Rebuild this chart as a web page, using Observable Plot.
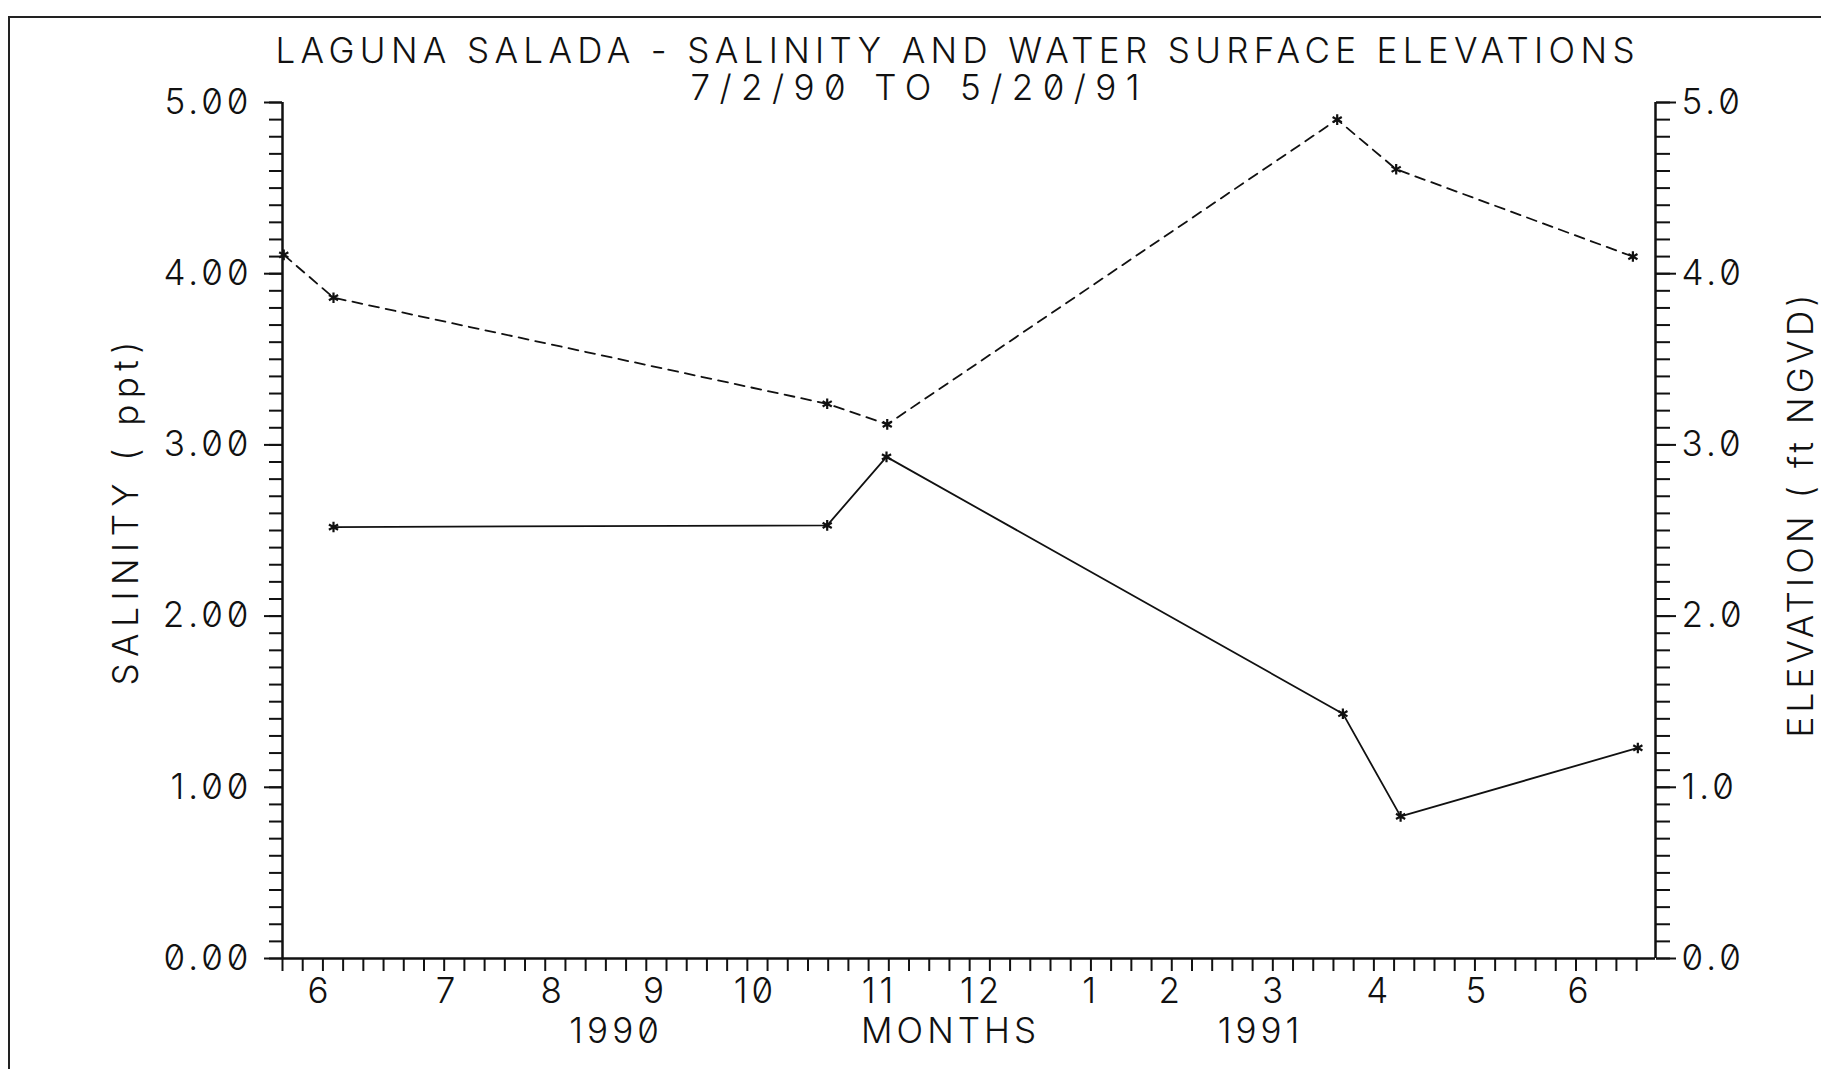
<!DOCTYPE html>
<html><head><meta charset="utf-8">
<script src="https://cdn.jsdelivr.net/npm/d3@7"></script>
<script src="https://cdn.jsdelivr.net/npm/@observablehq/plot@0.6"></script>
<style>
html,body{margin:0;padding:0;background:#fff;}
#wrap{position:relative;width:1821px;height:1069px;overflow:hidden;background:#fff;}
#border{position:absolute;left:8px;top:16px;width:1900px;height:1200px;border-top:2px solid #222;border-left:2px solid #222;pointer-events:none;}
#wrap svg{position:absolute;left:0;top:0;}
svg text{font-variant-numeric:slashed-zero;font-feature-settings:"zero" 1;}
</style></head><body><div id="wrap"><div id="border"></div></div>
<script>
// ---- data (x in month units along the plotted time axis) ----
const titleText = "LAGUNA SALADA - SALINITY AND WATER SURFACE ELEVATIONS";
const subtitleText = "7/2/90 TO 5/20/91";
const yLeftLabel = "SALINITY ( ppt)";
const yRightLabel = "ELEVATION ( ft NGVD)";

const elevMonth = [5.653, 6.126, 10.821, 11.392, 15.671, 16.232, 18.483];
const elevValue = [4.11, 3.86, 3.24, 3.12, 4.90, 4.61, 4.10];

const salMonth = [6.126, 10.821, 11.385, 15.725, 16.274, 18.530];
const salValue = [2.52, 2.53, 2.93, 1.43, 0.83, 1.23];

const monthTickPos = [5.997, 7.210, 8.216, 9.188, 10.139, 11.319, 12.289, 13.331, 14.093, 15.075, 16.070, 17.008, 17.981];
const monthTickLabels = ["6","7","8","9","10","11","12","1","2","3","4","5","6"];
const yearLabelPos = [8.813, 11.994, 14.942];
const yearLabels = ["1990", "MONTHS", "1991"];

const yMajorTicks = [0, 1, 2, 3, 4, 5];
const xDomain = [5.641, 18.698];
const yDomain = [0, 5];

// ---- build ----
const elev = elevMonth.map((m, i) => ({m, v: elevValue[i]}));
const sal = salMonth.map((m, i) => ({m, v: salValue[i]}));
const yMinor = d3.range(0, 5.0001, 0.1).map(d => +d.toFixed(2));
const xMinor = d3.range(xDomain[0], xDomain[1] + 0.01, 0.1922);
const ink = "#111";

const chart = Plot.plot({
  width: 1821,
  height: 1069,
  marginLeft: 282,
  marginRight: 166,
  marginTop: 102,
  marginBottom: 111,
  x: {domain: xDomain, label: null},
  y: {domain: yDomain, label: null},
  style: {fontFamily: "Inter, 'DejaVu Sans', sans-serif", fontSize: "35px", fontWeight: 300, color: ink, background: "transparent", overflow: "visible", letterSpacing: "4px"},
  marks: [
    // axis lines
    Plot.ruleX([xDomain[0], xDomain[1]], {y1: yDomain[0], y2: yDomain[1], stroke: ink, strokeWidth: 2.5}),
    Plot.ruleY([0], {stroke: ink, strokeWidth: 2.5}),
    // left axis ticks
    Plot.axisY({anchor: "left", ticks: yMinor, tickSize: 13, tickFormat: () => "", label: null, stroke: ink, strokeWidth: 2}),
    Plot.axisY({anchor: "left", ticks: yMajorTicks, tickSize: 18, tickPadding: 12, tickFormat: d3.format(".2f"), label: null, stroke: ink, strokeWidth: 2}),
    // right axis ticks
    Plot.axisY({anchor: "right", ticks: yMinor, tickSize: 14, tickFormat: () => "", label: null, stroke: ink, strokeWidth: 2}),
    Plot.axisY({anchor: "right", ticks: yMajorTicks, tickSize: 20, tickPadding: 6, tickFormat: d3.format(".1f"), label: null, stroke: ink, strokeWidth: 2}),
    // x axis ticks and labels
    Plot.axisX({ticks: xMinor, tickSize: 13, tickFormat: () => "", label: null, stroke: ink, strokeWidth: 2}),
    Plot.axisX({ticks: monthTickPos, tickSize: 0, tickPadding: 20, tickFormat: (d, i) => monthTickLabels[i], label: null}),
    Plot.axisX({ticks: yearLabelPos, tickSize: 0, tickPadding: 60, tickFormat: (d, i) => yearLabels[i], label: null}),
    // series
    Plot.line(elev, {x: "m", y: "v", stroke: ink, strokeWidth: 1.8, strokeDasharray: "10,7"}),
    Plot.line(sal, {x: "m", y: "v", stroke: ink, strokeWidth: 1.8}),
    Plot.dot(elev, {x: "m", y: "v", symbol: "asterisk", r: 5, stroke: ink, strokeWidth: 2.2}),
    Plot.dot(sal, {x: "m", y: "v", symbol: "asterisk", r: 5, stroke: ink, strokeWidth: 2.2}),
    // titles and axis titles
    Plot.text([titleText], {frameAnchor: "top", dx: -12, dy: -40, lineAnchor: "bottom", className: "ttl", fill: ink}),
    Plot.text([subtitleText], {frameAnchor: "top", dx: -52, dy: -3, lineAnchor: "bottom", className: "sub", fill: ink}),
    Plot.text([yLeftLabel], {frameAnchor: "left", dx: -156, dy: 155, rotate: -90, textAnchor: "start", className: "ylab", fill: ink}),
    Plot.text([yRightLabel], {frameAnchor: "right", dx: 146, dy: 207, rotate: -90, textAnchor: "start", className: "yrlab", fill: ink})
  ]
});

function fit(sel, len) {
  chart.querySelectorAll(sel + " text").forEach(t => {
    t.setAttribute("textLength", len);
    t.setAttribute("lengthAdjust", "spacing");
  });
}
fit(".ttl", 1363);
fit(".sub", 453);
fit(".ylab", 348);
fit(".yrlab", 447);

document.getElementById("wrap").insertBefore(chart, document.getElementById("border"));
</script>
</body></html>
